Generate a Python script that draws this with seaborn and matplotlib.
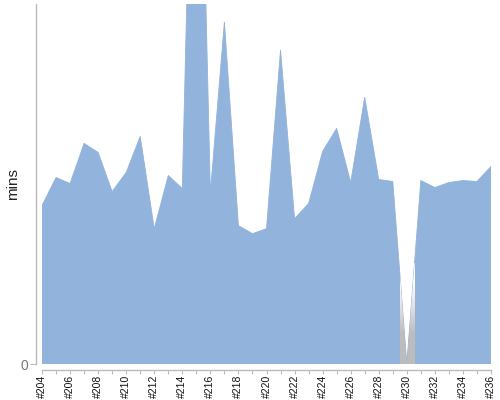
import numpy as np
import pandas as pd
import matplotlib
matplotlib.use("Agg")
import matplotlib.pyplot as plt
import seaborn as sns

builds = list(range(204, 237))
mins = [15.8, 18.6, 18.0, 22.0, 21.1, 17.2, 19.1, 22.7, 13.5, 18.8, 17.5,
        76.0, 17.1, 34.1, 13.8, 13.0, 13.5, 31.3, 14.5, 16.0, 21.2, 23.5,
        18.1, 26.6, 18.4, 18.2, 0.0, 18.3, 17.6, 18.1, 18.3, 18.2, 19.7]
gap_range = [229.5, 230.5]
tick_labels = ["#%d" % b for b in range(204, 237, 2)]

df = pd.DataFrame({"build": builds, "mins": mins})

sns.set_style("white")
plt.rcParams["font.family"] = ["Liberation Sans", "DejaVu Sans"]

fig = plt.figure(figsize=(5, 4), dpi=100)
ax = fig.add_axes([42 / 500, 36 / 400, 449 / 500, 360 / 400])

blue = "#92b3db"

area = ax.fill_between(df["build"], 0, df["mins"], color=blue, linewidth=0, zorder=2)
sns.lineplot(data=df, x="build", y="mins", ax=ax, color=blue, linewidth=0.6, zorder=2)

# grey-to-white band over the missing build, clipped to the area
top = 10.0
ys = np.linspace(0, top, 200)
t = np.clip((ys - 3.0) / 5.0, 0, 1)
shade = 0.74 + (1.0 - 0.74) * t
rgba = np.ones((200, 1, 4))
rgba[:, 0, 0] = shade
rgba[:, 0, 1] = shade
rgba[:, 0, 2] = shade
im = ax.imshow(rgba, extent=[gap_range[0], gap_range[1], 0, top], origin="lower",
               aspect="auto", zorder=3, interpolation="bilinear")
im.set_clip_path(area.get_paths()[0], transform=ax.transData)

ax.set_xlim(204, 236)
ax.set_ylim(0, 35.9)

ax.set_xticks(range(204, 237, 2))
ax.set_xticklabels(tick_labels)
ax.set_xticks(range(204, 237), minor=True)
ax.set_yticks([0])
ax.set_yticklabels(["0"])

ax.tick_params(axis="x", which="both", direction="out", length=3, width=0.8,
               color="#bbbbbb", bottom=True, pad=1, labelsize=7.5,
               labelcolor="#111111", labelrotation=90)
ax.tick_params(axis="y", direction="out", length=4, width=0.8, color="#bbbbbb",
               left=True, pad=2, labelsize=10, labelcolor="#777777")

for s in ["top", "right"]:
    ax.spines[s].set_visible(False)
for s in ["left", "bottom"]:
    ax.spines[s].set_color("#bbbbbb")
    ax.spines[s].set_linewidth(1.0)
    ax.spines[s].set_position(("outward", 4))

ax.set_xlabel("")
ax.set_ylabel("mins", fontsize=11, color="#222222")
ax.yaxis.set_label_coords(-0.050, 0.5)

fig.savefig("out.png", dpi=100)
